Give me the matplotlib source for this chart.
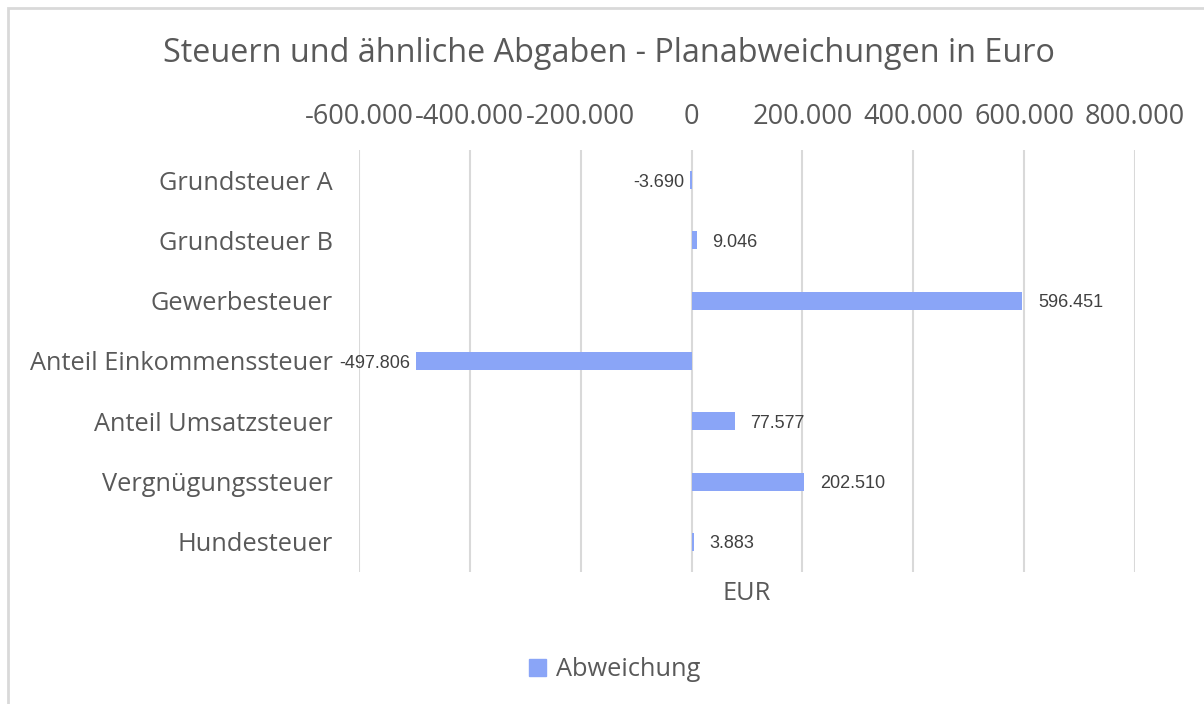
import matplotlib
matplotlib.use("Agg")
import matplotlib.pyplot as plt
from matplotlib.patches import Rectangle
from matplotlib.ticker import FuncFormatter

categories = ["Grundsteuer A", "Grundsteuer B", "Gewerbesteuer", "Anteil Einkommenssteuer",
              "Anteil Umsatzsteuer", "Vergnügungssteuer", "Hundesteuer"]
values = [-3690, 9046, 596451, -497806, 77577, 202510, 3883]
xticks = [-600000, -400000, -200000, 0, 200000, 400000, 600000, 800000]

BAR = "#8AA5F7"
TXT = "#595959"
GRID = "#D9D9D9"
FONT = "Open Sans"

def de_fmt(v):
    s = f"{abs(int(round(v))):,}".replace(",", ".")
    return ("-" if v < 0 else "") + s

fig = plt.figure(figsize=(12.04, 7.04), dpi=100)
fig.patch.set_facecolor("white")
fig.patches.append(Rectangle((8/1204, -0.01), 1.02, (704-8)/704 + 0.01, transform=fig.transFigure,
                             fill=False, edgecolor="#D9D9D9", linewidth=2))

ax = fig.add_axes([359/1204, 132/704, (1135-359)/1204, (572-150)/704])
y = list(range(len(categories)))
ax.barh(y, values, height=0.3, color=BAR, zorder=3)
ax.set_ylim(len(categories) - 0.5, -0.5)
ax.set_xlim(-600000, 800000)
ax.set_xticks(xticks)
ax.xaxis.set_major_formatter(FuncFormatter(lambda v, p: de_fmt(v)))
ax.xaxis.tick_top()
ax.tick_params(axis="x", length=0, pad=14, labelsize=19.5, labelcolor=TXT)
ax.set_yticks(y)
ax.set_yticklabels(categories)
ax.tick_params(axis="y", length=0, pad=19, labelsize=18.3, labelcolor=TXT)
for lab in ax.get_xticklabels() + ax.get_yticklabels():
    lab.set_fontfamily(FONT)
ax.grid(axis="x", color=GRID, linewidth=1.5, zorder=0)
for s in ax.spines.values():
    s.set_visible(False)

for yi, v in zip(y, values):
    if v >= 0:
        ax.annotate(de_fmt(v), (v, yi), xytext=(11.5, -1.5), textcoords="offset points",
                    ha="left", va="center", fontsize=13, color="#404040", family="Liberation Sans")
    else:
        ax.annotate(de_fmt(v), (v, yi), xytext=(-4, -1.5), textcoords="offset points",
                    ha="right", va="center", fontsize=13, color="#404040", family="Liberation Sans")

fig.text(747/1204, 1 - 593/704, "EUR", ha="center", va="center", fontsize=18.3, color=TXT, family=FONT)
fig.text(609/1204, 1 - 54/704, "Steuern und ähnliche Abgaben - Planabweichungen in Euro",
         ha="center", va="center", fontsize=23.3, color=TXT, family=FONT)

h = Rectangle((0, 0), 1, 1, color=BAR)
leg = fig.legend([h], ["Abweichung"], loc="center", bbox_to_anchor=(615/1204, 1 - 670/704),
                 frameon=False, handlelength=0.65, handleheight=0.65, handletextpad=0.4,
                 prop={"family": FONT, "size": 18.3})
for t in leg.get_texts():
    t.set_color(TXT)

fig.savefig("out.png", dpi=100)
